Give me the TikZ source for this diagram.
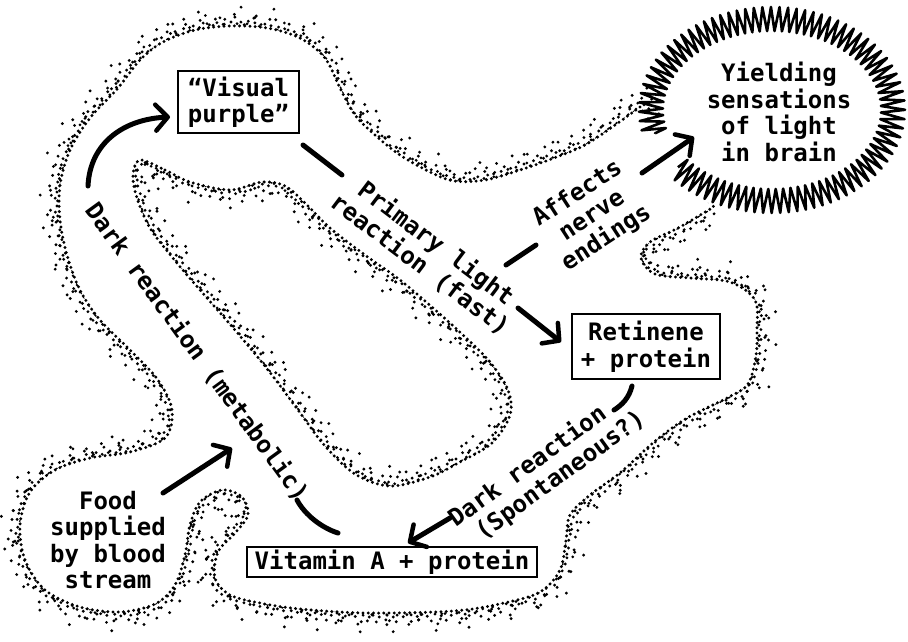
\documentclass[tikz,border=0pt]{standalone}
\usepackage{fontspec}
\setmainfont{DejaVu Sans Mono}
\usetikzlibrary{arrows.meta,decorations.pathmorphing}
\tikzset{
  lab/.style={font=\fontsize{24}{26.5}\selectfont\bfseries, align=center, inner sep=0pt},
  box/.style={lab, draw, line width=2.4pt},
  conn/.style={line width=5pt, line cap=round},
  tipped/.style={conn, -{Straight Barb[length=12pt,width=26pt,line width=4.5pt,round]}},
  zig/.style={line width=2.6pt, line join=round, decorate,
    decoration={zigzag, segment length=8pt, amplitude=12pt}},
  denseline/.style={line width=3.3pt, line cap=round, dash pattern=on 0pt off 5.2pt},
  dots/.style={line width=3.2pt, line cap=round}
}
\def\outerP{plot[smooth, tension=0.55] coordinates {
 (640,107) (615,125) (585,145) (554,158) (520,170) (485,180) (454,181) (430,172)
 (400,155) (375,135) (355,115) (340,88) (325,58) (300,38) (267,28) (230,26)
 (195,30) (163,42) (140,60) (118,88) (90,118) (70,150) (60,185) (60,220)
 (67,255) (80,290) (100,320) (130,350) (158,380) (172,410) (165,438) (130,452)
 (90,458) (55,470) (30,492) (20,525) (25,560) (45,590) (80,607) (120,612)
 (155,604) (175,585) (185,555) (190,525) (200,502) (222,490) (242,497) (248,515)
 (235,533) (218,552) (215,578) (230,595) (260,603) (300,609) (367,613) (454,611)
 (504,603) (540,592) (560,570) (566,540) (570,515) (590,495) (621,472) (654,442)
 (687,418) (727,398) (748,384) (756,355) (757,330) (755,300) (730,282) (690,278)
 (655,274) (641,258) (650,242) (678,228) (712,208)}}
\def\islandP{plot[smooth cycle, tension=0.55] coordinates {
 (140,160) (165,170) (190,182) (230,190) (262,182) (285,186) (305,203) (330,228)
 (365,255) (400,280) (433,308) (463,335) (490,362) (508,390) (510,415) (492,443)
 (460,462) (430,477) (390,486) (355,474) (325,446) (298,410) (268,370) (235,330)
 (200,290) (172,257) (150,228) (137,198) (133,175)}}
\begin{document}
\begin{tikzpicture}[x=1pt,y=-1pt]
\useasboundingbox (0,0) rectangle (908,641);
% stippled outlines: dense edge
\draw[denseline] \outerP;
\draw[denseline] \islandP;
% scattered dots outside the outer boundary
\begin{scope}[even odd rule]
  \clip (-20,-20) rectangle (930,660) \outerP -- cycle;
  \foreach \r/\o/\b in {4.5/10/14, 9/15/20, 14/22/29, 20/33/43}
    \foreach \a in {20,110,200,290}
      \draw[dots, shift={(\a+\r*9:\r)}, dash pattern=on 0pt off \o pt on 0pt off \b pt] \outerP;
\end{scope}
% scattered dots inside the island
\begin{scope}
  \clip \islandP;
  \foreach \r/\o/\b in {4.5/10/14, 9/15/20, 14/22/29, 20/33/43}
    \foreach \a in {20,110,200,290}
      \draw[dots, shift={(\a+\r*9:\r)}, dash pattern=on 0pt off \o pt on 0pt off \b pt] \islandP;
\end{scope}
% starburst
\coordinate (bc) at (772,110);
\draw[zig] ([shift={(219:121pt and 91pt)}]bc) arc[start angle=219, end angle=555, x radius=121pt, y radius=91pt];
% nodes
\node[box, minimum width=121pt, minimum height=62pt] (vp) at (238.5,102) {“Visual\\purple”};
\node[box, minimum width=148pt, minimum height=65pt] (ret) at (646,346.5) {Retinene\\+ protein};
\node[box, minimum width=290pt, minimum height=30pt] (vit) at (392,562) {Vitamin A + protein};
\node[lab] (food) at (108,540) {Food\\supplied\\by blood\\stream};
\node[lab] (brain) at (779,112) {Yielding\\sensations\\of light\\in brain};
\node[lab, rotate=-37] (primary) at (428,254) {Primary light\\reaction (fast)};
\node[lab, rotate=33] (affects) at (592,216) {Affects\\nerve\\endings};
\node[lab, rotate=36, align=left] (spont) at (547,469) {Dark reaction\\\hspace*{14pt}(Spontaneous?)};
\node[lab, rotate=-54] (metab) at (197,352) {Dark reaction (metabolic)};
% connector break points
\coordinate (p1) at (303,145);
\coordinate (p2) at (342,175);
\coordinate (p3) at (518,308);
\coordinate (p4) at (561,342);
\coordinate (a1) at (506,265);
\coordinate (a2) at (536,245);
\coordinate (a3) at (642,173);
\coordinate (a4) at (694,137);
\coordinate (r1) at (632,386);
\coordinate (r2) at (614,410);
\coordinate (r3) at (450,518);
\coordinate (r4) at (408,543);
\coordinate (m1) at (338,533);
\coordinate (m2) at (297,500);
\coordinate (d1) at (88,186);
\coordinate (d2) at (170,117);
\coordinate (f1) at (163,493);
\coordinate (f2) at (232,448);
% connectors
\draw[conn] (p1) -- (p2);
\draw[tipped] (p3) -- (p4);
\draw[conn] (a1) -- (a2);
\draw[tipped] (a3) -- (a4);
\draw[conn] (r1) .. controls (629,398) and (622,405) .. (r2);
\draw[tipped] (r3) -- (r4);
\draw[conn] (m1) .. controls (322,528) and (305,515) .. (m2);
\draw[tipped] (d1) .. controls (90,142) and (125,119) .. (d2);
\draw[tipped] (f1) -- (f2);
\end{tikzpicture}
\end{document}
